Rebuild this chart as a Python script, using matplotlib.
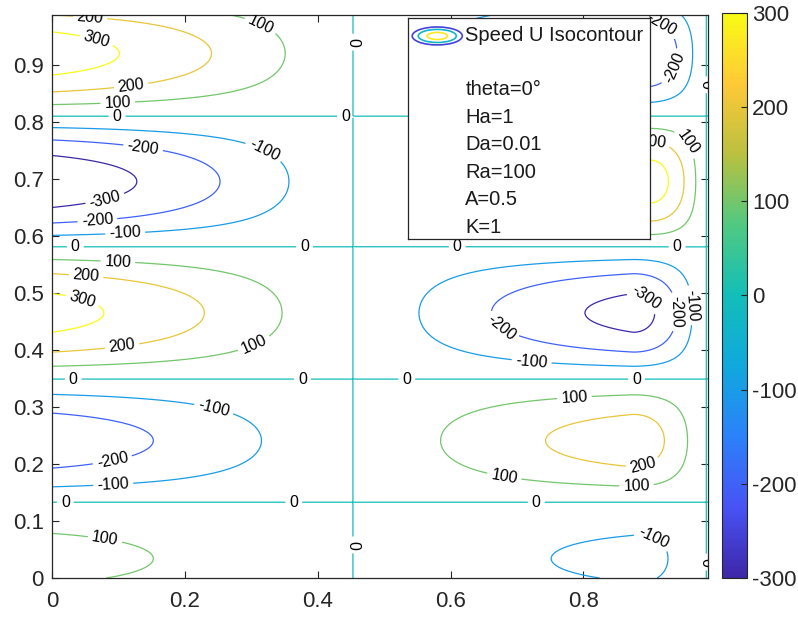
import numpy as np
import matplotlib.pyplot as plt
import matplotlib.cm as cm
from matplotlib.colors import LinearSegmentedColormap, Normalize
from matplotlib.patches import Ellipse

plt.rcParams['font.family'] = ['Liberation Sans', 'DejaVu Sans']
plt.rcParams['axes.unicode_minus'] = False

# parula-like colour table
parula = LinearSegmentedColormap.from_list('parula', [
    (0.0, (0.2422, 0.1504, 0.6603)),
    (0.125, (0.2805, 0.3259, 0.9609)),
    (0.25, (0.1707, 0.5069, 0.9773)),
    (0.375, (0.0626, 0.6620, 0.8667)),
    (0.5, (0.0704, 0.7457, 0.7258)),
    (0.625, (0.3139, 0.7882, 0.5069)),
    (0.75, (0.7264, 0.7547, 0.2493)),
    (0.875, (0.9960, 0.7870, 0.2167)),
    (1.0, (0.9769, 0.9839, 0.0805)),
])

# cell layout: U=0 lines and peak speed of each horizontal band
x_split = 0.453
x_wall = 0.985
y_zero = [-0.065, 0.133, 0.349, 0.581, 0.81, 1.03]
left_peak = [131, -262, 335, -370, 350]
right_peak = [-127, 255, -335, 345, -300]
right_peak_x = [0.885, 0.875, 0.875, 0.90, 0.89]

levels = [-300, -200, -100, 0, 100, 200, 300]
legend_title = 'Speed U Isocontour'
legend_lines = ['theta=0°', 'Ha=1', 'Da=0.01', 'Ra=100', 'A=0.5', 'K=1']

# where the contour values get written
label_xy = [
    (0.057, 0.979), (0.065, 0.935), (0.313, 0.967), (0.12, 0.856), (0.099, 0.828),
    (0.098, 0.807), (0.442, 0.809), (0.453, 0.94), (0.137, 0.754), (0.316, 0.742),
    (0.08, 0.663), (0.068, 0.632), (0.11, 0.609), (0.035, 0.581), (0.38, 0.581),
    (0.099, 0.551), (0.051, 0.525), (0.047, 0.493), (0.105, 0.412), (0.302, 0.416),
    (0.032, 0.349), (0.377, 0.349), (0.245, 0.304), (0.09, 0.212), (0.092, 0.168),
    (0.02, 0.133), (0.364, 0.133), (0.08, 0.07), (0.453, 0.058),
    (0.534, 0.349), (0.722, 0.379), (0.686, 0.456), (0.892, 0.488), (0.941, 0.467),
    (0.971, 0.479), (0.88, 0.349), (0.786, 0.325), (0.681, 0.179), (0.889, 0.2),
    (0.88, 0.165), (0.729, 0.133), (0.904, 0.067), (0.985, 0.028),
    (0.61, 0.581), (0.941, 0.581), (0.944, 0.891), (0.985, 0.865), (0.952, 0.76),
    (0.905, 0.945), (0.905, 0.77),
]

# build the speed field band by band
x = np.linspace(0, 0.9875, 320)
y = np.linspace(0, 0.9875, 320)
X, Y = np.meshgrid(x, y)
U = np.zeros_like(X)

s = np.clip(X / x_split, 0, 1)
f_left = 0.5 * (np.cos(np.pi / 2 * s) + 1 - s)

for b in range(len(left_peak)):
    y0, y1 = y_zero[b], y_zero[b + 1]
    h = np.sin(np.pi * (Y - y0) / (y1 - y0))
    xp = right_peak_x[b]
    t = np.clip((X - x_split) / (xp - x_split), 0, 1)
    rise = 0.5 * (np.sin(np.pi / 2 * t) + t)
    fall = np.cos(np.pi / 2 * (X - xp) / (x_wall - xp))
    g_right = np.where(X <= xp, rise, fall)
    prof = np.where(X < x_split, left_peak[b] * f_left, right_peak[b] * g_right)
    inband = (Y >= y0) & (Y < y1)
    U = np.where(inband, prof * h, U)

fig = plt.figure(figsize=(7.98, 6.17), dpi=100)
ax = fig.add_axes([0.0652, 0.0632, 0.822, 0.9125])

cs = ax.contour(X, Y, U, levels=levels, cmap=parula, vmin=-300, vmax=300,
                linewidths=0.9)
ax.clabel(cs, fmt='%d', fontsize=11.5, inline=True, inline_spacing=4,
          manual=label_xy, colors='k')

ax.set_xlim(0, 0.9875)
ax.set_ylim(0, 0.9875)
ax.set_xticks([0, 0.2, 0.4, 0.6, 0.8])
ax.set_xticklabels(['0', '0.2', '0.4', '0.6', '0.8'])
ax.set_yticks([0, 0.1, 0.2, 0.3, 0.4, 0.5, 0.6, 0.7, 0.8, 0.9])
ax.set_yticklabels(['0', '0.1', '0.2', '0.3', '0.4', '0.5', '0.6', '0.7', '0.8', '0.9'])
ax.tick_params(direction='in', top=True, right=True, length=5, width=0.8,
               labelsize=16, colors='0.15')
ax.tick_params(axis='x', pad=9)
ax.tick_params(axis='y', pad=6)
for sp in ax.spines.values():
    sp.set_color('0.15')
    sp.set_linewidth(0.9)

# legend box with contour icon and parameters
leg = ax.inset_axes([0.543, 0.602, 0.369, 0.393])
leg.set_zorder(10)
leg.set_xlim(0, 1)
leg.set_ylim(0, 1)
leg.set_xticks([])
leg.set_yticks([])
for sp in leg.spines.values():
    sp.set_color('0.15')
    sp.set_linewidth(0.9)
leg.add_patch(Ellipse((0.12, 0.918), 0.207, 0.081, fill=False, ec=parula(0.08), lw=1.2))
leg.add_patch(Ellipse((0.12, 0.918), 0.157, 0.059, fill=False, ec=parula(0.45), lw=1.2))
leg.add_patch(Ellipse((0.12, 0.918), 0.083, 0.032, fill=False, ec=parula(0.95), lw=1.2))
leg.text(0.236, 0.918, legend_title, fontsize=14.5, va='center', ha='left', color='0.1')
for i, line in enumerate(legend_lines):
    leg.text(0.236, 0.674 - i * 0.124, line, fontsize=14.5, va='center', ha='left',
             color='0.1')

# colour bar
cax = fig.add_axes([0.905, 0.0632, 0.031, 0.9158])
sm = cm.ScalarMappable(norm=Normalize(-300, 300), cmap=parula)
cb = fig.colorbar(sm, cax=cax, ticks=levels)
cb.ax.tick_params(labelsize=16, direction='in', length=4, width=0.8, colors='0.15')
cb.outline.set_linewidth(0.8)
cb.outline.set_edgecolor('0.15')

fig.savefig('out.png', dpi=100)
